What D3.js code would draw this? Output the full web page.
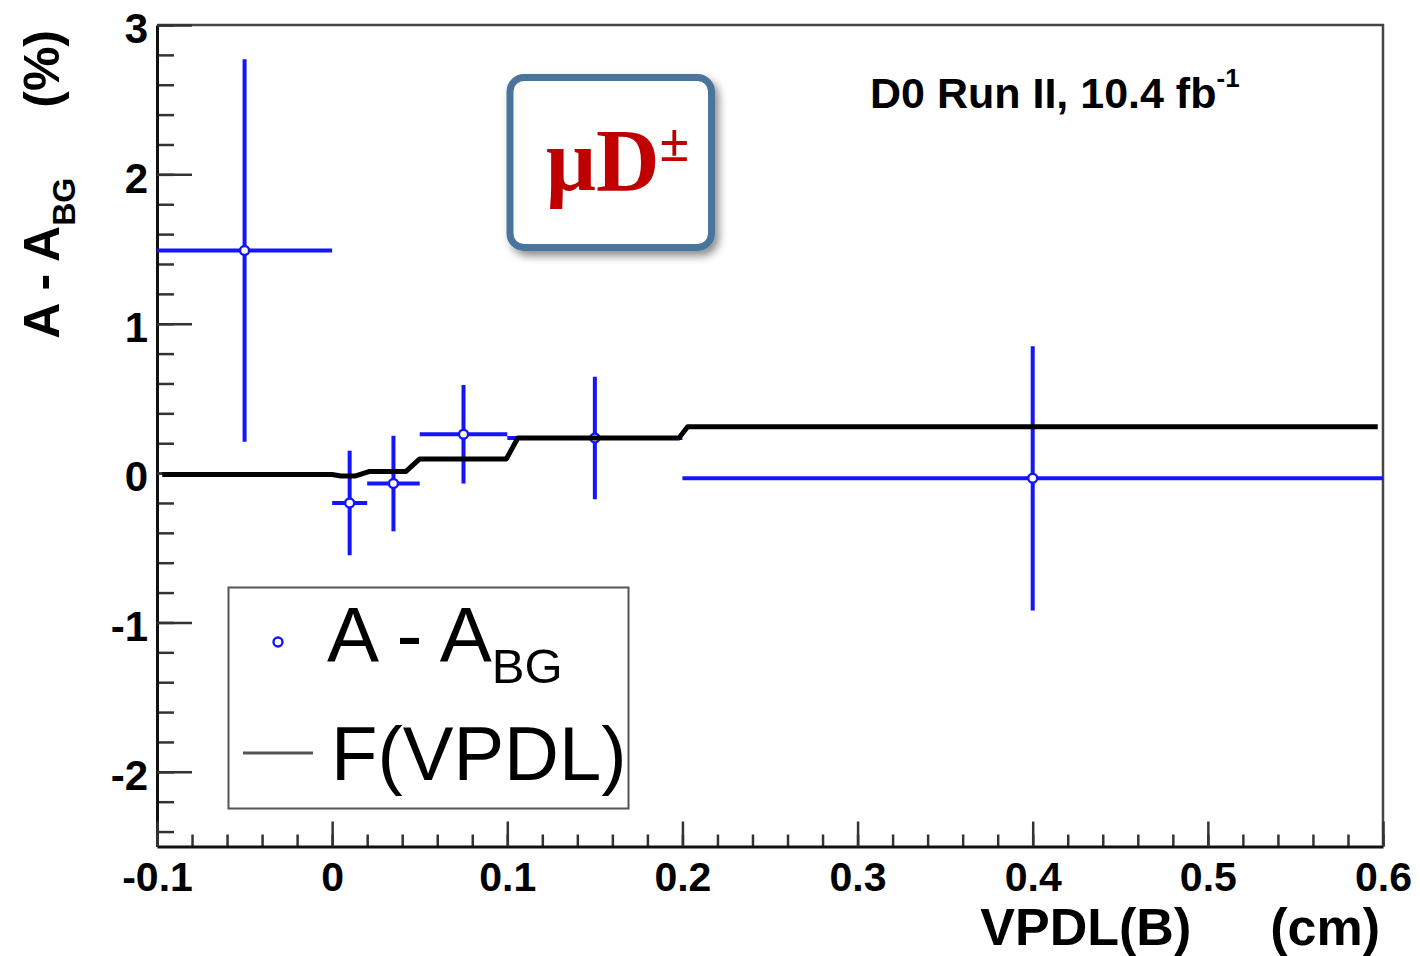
<!DOCTYPE html>
<html>
<head>
<meta charset="utf-8">
<script src="https://cdn.jsdelivr.net/npm/d3@7"></script>
<style>
  body { margin: 0; background: #fff; }
  svg { display: block; }
</style>
</head>
<body>
<div id="chart"></div>
<script>
// measured points A - A_BG (%)
const ptX = [-0.05, 0.01, 0.035, 0.075, 0.15, 0.4];
const ptY = [1.49, -0.2, -0.07, 0.26, 0.235, -0.035];
const ptXLo = [-0.1, 0, 0.02, 0.05, 0.1, 0.2];
const ptXHi = [0, 0.02, 0.05, 0.1, 0.2, 0.6];
const ptYErr = [1.28, 0.35, 0.32, 0.33, 0.41, 0.885];

// F(VPDL) step curve
const fX = [-0.097, 0.0, 0.005, 0.013, 0.021, 0.042, 0.05, 0.0995, 0.106, 0.198, 0.203, 0.597];
const fY = [-0.01, -0.01, -0.02, -0.02, 0.01, 0.01, 0.095, 0.095, 0.235, 0.235, 0.31, 0.31];

// ticks
const xMajor = [-0.1, 0, 0.1, 0.2, 0.3, 0.4, 0.5, 0.6];
const xLabels = ["-0.1", "0", "0.1", "0.2", "0.3", "0.4", "0.5", "0.6"];
const xMinor = d3.range(-5, 31).map(i => i * 0.02);
const yMajor = [-2, -1, 0, 1, 2, 3];
const yLabels = ["-2", "-1", "0", "1", "2", "3"];
const yMinor = d3.range(-12, 16).map(i => i * 0.2);

const width = 1420, height = 956;
const mLeft = 157, mRight = 1383, mTop = 25, mBottom = 846.5;

const svg = d3.select("#chart").append("svg")
  .attr("width", width)
  .attr("height", height)
  .style("font-family", "'Liberation Sans', Arial, sans-serif");

const defs = svg.append("defs");
const shadow = defs.append("filter").attr("id", "shadow")
  .attr("x", "-20%").attr("y", "-20%").attr("width", "150%").attr("height", "150%");
shadow.append("feDropShadow")
  .attr("dx", 4).attr("dy", 5).attr("stdDeviation", 4)
  .attr("flood-color", "#000").attr("flood-opacity", 0.45);

const x = d3.scaleLinear().domain([-0.1, 0.6]).range([mLeft, mRight]);
const y = d3.scaleLinear().domain([-2.5, 3]).range([mBottom, mTop]);

// frame (top + right)
svg.append("path")
  .attr("d", `M${mLeft},${mTop}H${mRight}V${mBottom}`)
  .attr("fill", "none")
  .attr("stroke", "#444")
  .attr("stroke-width", 2.5);

// y axis
svg.append("g")
  .attr("transform", `translate(${mLeft},0)`)
  .call(d3.axisLeft(y).tickValues(yMinor).tickSize(-17).tickSizeOuter(0).tickFormat(""))
  .call(g => g.select(".domain").remove())
  .call(g => g.selectAll("line").attr("stroke", "#333").attr("stroke-width", 2.5));

const yAxis = svg.append("g")
  .attr("transform", `translate(${mLeft},0)`)
  .call(d3.axisLeft(y).tickValues(yMajor).tickSize(-35).tickSizeOuter(0).tickPadding(9)
    .tickFormat((d, i) => yLabels[i]));
yAxis.select(".domain").attr("stroke", "#111").attr("stroke-width", 3);
yAxis.selectAll("line").attr("stroke", "#333").attr("stroke-width", 2.5);
yAxis.selectAll("text")
  .attr("dy", "0.42em")
  .style("font-family", "'Liberation Sans', Arial, sans-serif")
  .style("font-size", "42px")
  .style("font-weight", "bold")
  .attr("fill", "#000");

// x axis
svg.append("g")
  .attr("transform", `translate(0,${mBottom})`)
  .call(d3.axisBottom(x).tickValues(xMinor).tickSize(-12).tickSizeOuter(0).tickFormat(""))
  .call(g => g.select(".domain").remove())
  .call(g => g.selectAll("line").attr("stroke", "#333").attr("stroke-width", 2.5));

const xAxis = svg.append("g")
  .attr("transform", `translate(0,${mBottom})`)
  .call(d3.axisBottom(x).tickValues(xMajor).tickSize(-25).tickSizeOuter(0).tickPadding(15)
    .tickFormat((d, i) => xLabels[i]));
xAxis.select(".domain").attr("stroke", "#111").attr("stroke-width", 3);
xAxis.selectAll("line").attr("stroke", "#333").attr("stroke-width", 2.5);
xAxis.selectAll("text")
  .style("font-family", "'Liberation Sans', Arial, sans-serif")
  .style("font-size", "41px")
  .style("font-weight", "bold")
  .attr("fill", "#000");

// axis titles
const xt = svg.append("text")
  .attr("x", 1380).attr("y", 945)
  .attr("text-anchor", "end")
  .style("font-size", "52px").style("font-weight", "bold");
xt.append("tspan").text("VPDL(B)");
xt.append("tspan").attr("dx", 79).text("(cm)");

const yt = svg.append("text")
  .attr("transform", "translate(59,30) rotate(-90)")
  .attr("text-anchor", "end")
  .style("font-size", "50px").style("font-weight", "bold");
yt.append("tspan").text("A - A");
yt.append("tspan").attr("dy", 16).style("font-size", "32px").text("BG");
yt.append("tspan").attr("dy", -16).attr("dx", 70).text("(%)");

// data points
const pts = ptX.map((d, i) => ({ x: d, y: ptY[i], xl: ptXLo[i], xh: ptXHi[i], e: ptYErr[i] }));
const pg = svg.append("g");
pg.selectAll(".eh").data(pts).join("line")
  .attr("class", "eh")
  .attr("x1", d => x(d.xl)).attr("x2", d => x(d.xh))
  .attr("y1", d => y(d.y)).attr("y2", d => y(d.y))
  .attr("stroke", "#1414ff").attr("stroke-width", 4);
pg.selectAll(".ev").data(pts).join("line")
  .attr("class", "ev")
  .attr("x1", d => x(d.x)).attr("x2", d => x(d.x))
  .attr("y1", d => y(d.y - d.e)).attr("y2", d => y(d.y + d.e))
  .attr("stroke", "#1414ff").attr("stroke-width", 4);
pg.selectAll("circle").data(pts).join("circle")
  .attr("cx", d => x(d.x)).attr("cy", d => y(d.y))
  .attr("r", 4.5)
  .attr("fill", "#fff").attr("stroke", "#1414ff").attr("stroke-width", 2.4);

// F(VPDL)
const fData = fX.map((d, i) => [d, fY[i]]);
svg.append("path")
  .datum(fData)
  .attr("d", d3.line().x(d => x(d[0])).y(d => y(d[1])))
  .attr("fill", "none")
  .attr("stroke", "#000")
  .attr("stroke-width", 5)
  .attr("stroke-linejoin", "round");

// label box
svg.append("rect")
  .attr("x", 510).attr("y", 77.5).attr("width", 201.5).attr("height", 170)
  .attr("rx", 14)
  .attr("fill", "#fff").attr("stroke", "#4a749c").attr("stroke-width", 7)
  .attr("filter", "url(#shadow)");
const mu = svg.append("text")
  .attr("x", 546).attr("y", 190)
  .style("font-family", "'Liberation Serif', 'Times New Roman', serif")
  .style("font-size", "88px").style("font-weight", "bold")
  .attr("fill", "#c00000");
mu.append("tspan").text("\u03BCD");
mu.append("tspan").attr("dy", -29).style("font-size", "54px").text("\u00B1");

// experiment label
const run = svg.append("text")
  .attr("x", 870).attr("y", 108)
  .style("font-size", "43px").style("font-weight", "bold");
run.append("tspan").text("D0 Run II, 10.4 fb");
run.append("tspan").attr("dy", -21).style("font-size", "26px").text("-1");

// legend
const lg = svg.append("g");
lg.append("rect")
  .attr("x", 228.5).attr("y", 587.5).attr("width", 400).attr("height", 221)
  .attr("fill", "#fff").attr("stroke", "#555").attr("stroke-width", 2);
lg.append("circle")
  .attr("cx", 278).attr("cy", 642).attr("r", 4.5)
  .attr("fill", "#fff").attr("stroke", "#1414ff").attr("stroke-width", 2.4);
const l1 = lg.append("text")
  .attr("x", 327).attr("y", 662)
  .style("font-size", "78px");
l1.append("tspan").text("A - A");
l1.append("tspan").attr("dy", 21).style("font-size", "49px").text("BG");
lg.append("line")
  .attr("x1", 243).attr("x2", 313).attr("y1", 753).attr("y2", 753)
  .attr("stroke", "#555").attr("stroke-width", 3);
lg.append("text")
  .attr("x", 331).attr("y", 780)
  .style("font-size", "76px")
  .text("F(VPDL)");
</script>
</body>
</html>
